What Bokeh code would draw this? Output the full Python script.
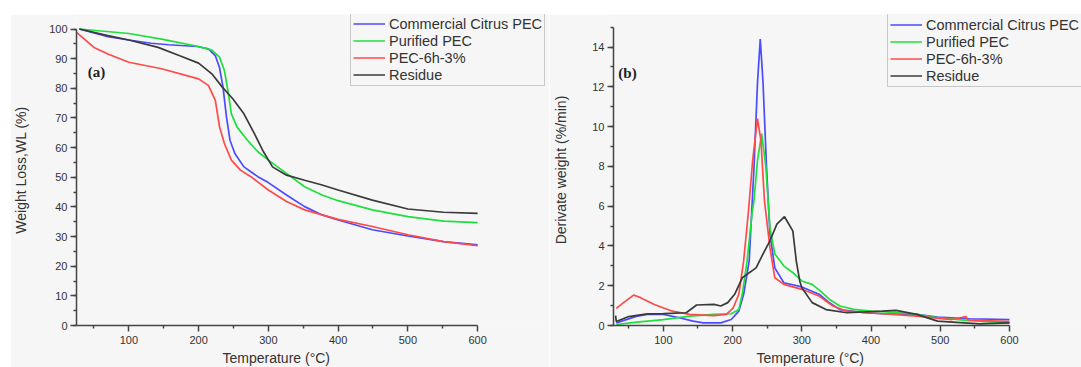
from bokeh.plotting import figure
from bokeh.models import (Range1d, FixedTicker, SingleIntervalTicker, Legend,
                          LegendItem, Label, Spacer, Title)
from bokeh.layouts import row, column
from bokeh.embed import file_html
from bokeh.resources import INLINE

series_names = ["Commercial Citrus PEC", "Purified PEC", "PEC-6h-3%", "Residue"]
colors = ["#4b4bff", "#1ee03c", "#ff4a4a", "#3a3a3a"]
x_label = "Temperature (°C)"
y_label_a = "Weight Loss,WL (%)"
y_label_b = "Derivate weight (%/min)"

# ---- (a) TGA: temperature (°C) vs weight (%) ----
tga_blue_x = [29, 70, 100, 132, 157, 198, 214, 224, 230, 235, 240, 245, 252, 265, 285, 300, 326, 352, 377, 400, 449, 500, 551, 600]
tga_blue_y = [100, 97.4, 96.3, 95.2, 94.7, 94.1, 93.3, 91, 87, 80.4, 70.3, 62.5, 58, 53.5, 50.2, 48.2, 44, 40.1, 37.3, 35.6, 32.3, 30.2, 28.3, 27.2]

tga_green_x = [29, 100, 147, 200, 219, 230, 237, 242, 247, 255, 270, 285, 300, 326, 352, 377, 400, 449, 500, 551, 600]
tga_green_y = [100, 98.5, 96.6, 94.1, 92.9, 90.5, 86, 79.3, 71.4, 67, 62.5, 58.6, 55.8, 51.3, 46.8, 44, 42.1, 39, 36.7, 35.2, 34.7]

tga_red_x = [25, 50, 70, 100, 147, 200, 214, 224, 230, 237, 247, 260, 275, 300, 326, 352, 377, 400, 449, 500, 551, 600]
tga_red_y = [98.9, 93.8, 91.6, 88.8, 86.6, 83.2, 81, 75.9, 67, 61.4, 55.8, 52.4, 50.2, 45.7, 41.8, 39, 37.3, 35.8, 33.4, 30.6, 28.3, 26.9]

tga_black_x = [29, 70, 100, 142, 173, 200, 219, 234, 249, 265, 280, 293, 306, 326, 352, 377, 400, 449, 500, 551, 600]
tga_black_y = [100, 97.8, 96.3, 93.8, 91, 88.5, 84.9, 80.4, 76.5, 71.4, 64.7, 58.6, 53.5, 50.7, 49, 47.4, 45.7, 42.3, 39.3, 38.2, 37.8]

# ---- (b) DTG: temperature (°C) vs derivative weight (%/min) ----
dtg_blue_x = [32, 62, 77, 100, 123, 143, 158, 183, 198, 209, 216, 224, 231, 236, 240, 244, 249, 254, 261, 274, 300, 325, 340, 355, 390, 416, 466, 496, 542, 600]
dtg_blue_y = [0.13, 0.47, 0.56, 0.56, 0.39, 0.22, 0.13, 0.13, 0.3, 0.72, 1.57, 3.25, 8.0, 12.2, 14.4, 12.2, 8.0, 4.6, 2.9, 2.15, 1.94, 1.57, 1.14, 0.8, 0.64, 0.59, 0.56, 0.42, 0.34, 0.3]

dtg_green_x = [32, 62, 100, 138, 173, 198, 209, 214, 221, 228, 231, 236, 242, 248, 254, 261, 274, 289, 300, 315, 327, 340, 355, 375, 400, 441, 466, 496, 542, 600]
dtg_green_y = [0.05, 0.17, 0.3, 0.47, 0.56, 0.59, 0.81, 1.57, 3.25, 5.6, 6.3, 8.3, 9.65, 8.0, 4.9, 3.6, 3.0, 2.6, 2.24, 2.07, 1.73, 1.31, 0.98, 0.81, 0.72, 0.64, 0.56, 0.39, 0.25, 0.13]

dtg_red_x = [32, 42, 57, 67, 87, 113, 138, 173, 191, 201, 209, 216, 223, 229, 236, 241, 246, 254, 261, 274, 300, 325, 345, 365, 416, 466, 517, 537, 540, 600]
dtg_red_y = [0.86, 1.14, 1.53, 1.4, 1.06, 0.72, 0.56, 0.5, 0.56, 0.89, 1.57, 3.25, 5.77, 8.3, 10.4, 9.3, 6.3, 3.9, 2.4, 2.07, 1.82, 1.48, 0.98, 0.72, 0.59, 0.47, 0.3, 0.45, 0.28, 0.19]

dtg_black_x = [31, 32, 50, 77, 100, 133, 148, 173, 183, 193, 203, 214, 234, 244, 254, 264, 275, 287, 292, 297, 300, 315, 335, 365, 416, 436, 466, 496, 557, 600]
dtg_black_y = [0.5, 0.2, 0.45, 0.58, 0.6, 0.64, 1.03, 1.06, 0.98, 1.15, 1.57, 2.4, 2.9, 3.6, 4.26, 5.1, 5.47, 4.76, 3.25, 2.24, 1.9, 1.15, 0.8, 0.64, 0.72, 0.76, 0.56, 0.22, 0.08, 0.13]

BG = "#f6f6f6"
AX = "#444444"
TXT = "#333333"
FONT = "Liberation Sans"


def style(p, xticks, xminor, yticker, xb, yb):
    p.xgrid.visible = False
    p.ygrid.visible = False
    p.outline_line_color = None
    p.background_fill_color = BG
    p.border_fill_color = BG
    p.xaxis.ticker = FixedTicker(ticks=xticks, minor_ticks=xminor)
    p.yaxis.ticker = yticker
    p.xaxis.bounds = xb
    p.yaxis.bounds = yb
    for ax in (p.xaxis, p.yaxis):
        ax.axis_line_color = AX
        ax.axis_line_width = 1.5
        ax.major_tick_line_color = AX
        ax.minor_tick_line_color = AX
        ax.major_tick_line_width = 1.5
        ax.minor_tick_line_width = 1.5
        ax.major_tick_in = 0
        ax.major_tick_out = 6
        ax.minor_tick_in = 0
        ax.minor_tick_out = 3
        ax.major_label_text_font = FONT
        ax.major_label_text_font_size = "11px"
        ax.major_label_text_color = TXT
        ax.axis_label_text_font = FONT
        ax.axis_label_text_font_size = "14px"
        ax.axis_label_text_font_style = "normal"
        ax.axis_label_text_color = TXT
    p.xaxis.major_label_standoff = 4
    p.yaxis.major_label_standoff = 3


def add_xlabel(p, offset):
    t = Title(text=x_label, align="left", offset=offset, standoff=2,
              text_font=FONT, text_font_size="14px", text_font_style="normal",
              text_color=TXT)
    p.add_layout(t, "below")


def add_legend(p, renderers, loc):
    items = [LegendItem(label=n, renderers=[r]) for n, r in zip(series_names, renderers)]
    leg = Legend(items=items, location=loc)
    leg.label_text_font = FONT
    leg.label_text_font_size = "14.5px"
    leg.label_text_color = TXT
    leg.glyph_width = 32
    leg.glyph_height = 17
    leg.label_height = 17
    leg.spacing = 0
    leg.padding = 2
    leg.margin = 0
    leg.label_standoff = 4
    leg.border_line_color = "#9a9a9a"
    leg.border_line_width = 1.5
    leg.background_fill_color = BG
    leg.background_fill_alpha = 1.0
    p.add_layout(leg)


xt = [100, 200, 300, 400, 500, 600]
xm = [50, 150, 250, 350, 450, 550]

# ---------- panel (a) ----------
p1 = figure(width=539, height=353, x_range=Range1d(25, 703), y_range=Range1d(0, 104.9),
            output_backend="svg", toolbar_location=None,
            min_border_left=66, min_border_right=0, min_border_top=0, min_border_bottom=41)
style(p1, xt, xm, SingleIntervalTicker(interval=10, num_minor_ticks=2), (25, 600), (0, 100))
p1.yaxis.axis_label = y_label_a
p1.yaxis.axis_label_standoff = 17
add_xlabel(p1, 146)
r1 = []
for xs, ys, c in [(tga_blue_x, tga_blue_y, colors[0]), (tga_green_x, tga_green_y, colors[1]),
                  (tga_red_x, tga_red_y, colors[2]), (tga_black_x, tga_black_y, colors[3])]:
    r1.append(p1.line(xs, ys, line_color=c, line_width=1.7))
add_legend(p1, r1, (274, 239))
p1.add_layout(Label(x=41, y=85.5, text="(a)", text_font="Liberation Serif", text_font_style="bold",
                    text_font_size="15px", text_baseline="middle", text_color="#222222"))

# ---------- panel (b) ----------
p2 = figure(width=532, height=353, x_range=Range1d(28, 704), y_range=Range1d(0, 15.64),
            output_backend="svg", toolbar_location=None,
            min_border_left=64, min_border_right=0, min_border_top=0, min_border_bottom=42)
style(p2, xt, xm, SingleIntervalTicker(interval=2, num_minor_ticks=2), (28, 600), (0, 15))
p2.yaxis.axis_label = y_label_b
p2.yaxis.axis_label_standoff = 20
add_xlabel(p2, 143)
r2 = []
for xs, ys, c in [(dtg_blue_x, dtg_blue_y, colors[0]), (dtg_green_x, dtg_green_y, colors[1]),
                  (dtg_red_x, dtg_red_y, colors[2]), (dtg_black_x, dtg_black_y, colors[3])]:
    r2.append(p2.line(xs, ys, line_color=c, line_width=1.7))
add_legend(p2, r2, (274, 238))
p2.add_layout(Label(x=35, y=12.7, text="(b)", text_font="Liberation Serif", text_font_style="bold",
                    text_font_size="15px", text_baseline="middle", text_color="#222222"))

layout = column(Spacer(width=1081, height=14), row(Spacer(width=10, height=353), p1, p2))

with open("out.html", "w") as f:
    f.write(file_html(layout, INLINE))
